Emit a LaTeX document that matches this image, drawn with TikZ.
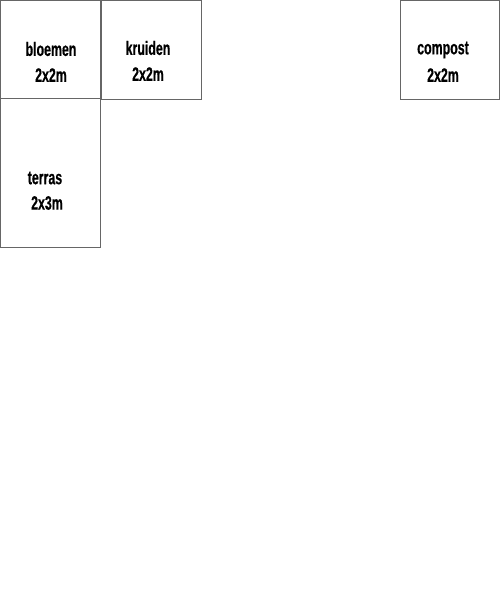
\documentclass[tikz,border=0pt]{standalone}
\usepackage{fontspec}
\setmainfont{Liberation Sans}[FakeStretch=0.64,BoldFeatures={FakeBold=0.5}]
\usetikzlibrary{fit}
\begin{document}
\begin{tikzpicture}[x=0.75pt,y=-0.75pt,
  plot/.style={draw=black!60,line width=0.75pt,inner sep=0pt,outer sep=0pt,rectangle},
  lbl/.style={font=\bfseries\fontsize{14.5}{16}\selectfont,align=center,inner sep=0pt}]
\useasboundingbox (0,0) rectangle (500,600);
\node[plot,fit={(0.5,0.5) (100,98)}] (bloemen) {};
\node[plot,fit={(101,0.5) (201,99)}] (kruiden) {};
\node[plot,fit={(400.5,0.5) (499,99)}] (compost) {};
\node[plot,fit={(0.5,98) (100,247)}] (terras) {};
\node[lbl] (t1a) at (51,49) {bloemen};
\node[lbl] (t1b) at (51,75) {2x2m};
\node[lbl] (t2a) at (148,48) {kruiden};
\node[lbl] (t2b) at (148,74) {2x2m};
\node[lbl] (t3a) at (443,50) {compost};
\node[lbl] (t3b) at (443,75) {2x2m};
\node[lbl] (t4a) at (45,178) {terras};
\node[lbl] (t4b) at (47,203) {2x3m};
\end{tikzpicture}
\end{document}
